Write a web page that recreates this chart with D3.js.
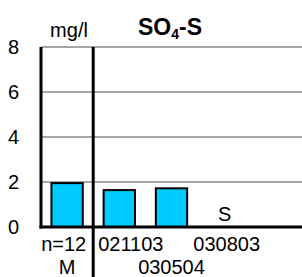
<!DOCTYPE html>
<html>
<head>
<meta charset="utf-8">
<script src="https://cdn.jsdelivr.net/npm/d3@7"></script>
<style>
  body { margin: 0; background: #fff; }
  text { font-family: Arial, "Liberation Sans", sans-serif; }
</style>
</head>
<body>
<div id="viz"></div>
<script>
// chart data
var categories = ["M", "021103", "030504", "030803", "x5"];
var values = [1.95, 1.64, 1.72, null, null];
var labelTop = ["n=12", "021103", "", "030803", ""];
var labelBottom = ["M", "", "030504", "", ""];
var markers = ["", "", "", "S", ""];
var yTicks = [0, 2, 4, 6, 8];

var W = 302, H = 277;
var margin = {top: 47, right: 0, bottom: 50, left: 41},
    width = W - margin.left - margin.right,
    height = H - margin.top - margin.bottom;

var svg = d3.select("#viz").append("svg")
    .attr("width", W)
    .attr("height", H);

var g = svg.append("g")
    .attr("transform", "translate(" + margin.left + "," + margin.top + ")");

var x = d3.scaleBand()
    .domain(categories)
    .range([0, width])
    .paddingInner(0.4)
    .paddingOuter(0.2);

var y = d3.scaleLinear()
    .domain([0, 8])
    .range([height, 0]);

var mid = function(c) { return x(c) + x.bandwidth() / 2; };
// separator between the mean column and the single dates
var sepX = (x(categories[0]) + x.bandwidth() + x(categories[1])) / 2;

// horizontal gridlines
g.append("g")
    .selectAll("line")
    .data(yTicks.filter(function(d) { return d > 0; }))
    .enter().append("line")
    .attr("x1", 0)
    .attr("x2", width)
    .attr("y1", function(d) { return y(d); })
    .attr("y2", function(d) { return y(d); })
    .attr("stroke", "#4d4d4d")
    .attr("stroke-width", 1);

// y tick labels
g.append("g")
    .selectAll("text")
    .data(yTicks)
    .enter().append("text")
    .attr("x", -22)
    .attr("y", function(d) { return y(d); })
    .attr("dy", "0.36em")
    .attr("text-anchor", "end")
    .attr("font-size", "20px")
    .text(function(d) { return d; });

// bars
g.append("g")
    .selectAll("rect")
    .data(values.map(function(v, i) { return {c: categories[i], v: v}; }).filter(function(d) { return d.v != null; }))
    .enter().append("rect")
    .attr("x", function(d) { return x(d.c); })
    .attr("y", function(d) { return y(d.v); })
    .attr("width", x.bandwidth())
    .attr("height", function(d) { return height - y(d.v); })
    .attr("fill", "#00ccff")
    .attr("stroke", "#000")
    .attr("stroke-width", 2);

// marker letters inside plot
g.append("g")
    .selectAll("text")
    .data(categories.map(function(c, i) { return {c: c, t: markers[i]}; }))
    .enter().append("text")
    .attr("x", function(d) { return mid(d.c) + 1; })
    .attr("y", height - 6)
    .attr("text-anchor", "middle")
    .attr("font-size", "20px")
    .text(function(d) { return d.t; });

// category labels, two rows; the ones next to the separator are pushed away from it
var cats = g.append("g");
cats.selectAll("text.top")
    .data(categories.map(function(c, i) { return {c: c, t: labelTop[i], i: i}; }))
    .enter().append("text")
    .attr("class", "top")
    .attr("x", function(d) {
        if (d.i == 0) return sepX - 7;
        if (d.i == 1) return sepX + 5;
        return mid(d.c) + 3;
    })
    .attr("y", height + 24)
    .attr("text-anchor", function(d) { return d.i == 0 ? "end" : (d.i == 1 ? "start" : "middle"); })
    .attr("font-size", "20px")
    .text(function(d) { return d.t; });
cats.selectAll("text.bot")
    .data(categories.map(function(c, i) { return {c: c, t: labelBottom[i]}; }))
    .enter().append("text")
    .attr("class", "bot")
    .attr("x", function(d) { return mid(d.c); })
    .attr("y", height + 47)
    .attr("text-anchor", "middle")
    .attr("font-size", "20px")
    .text(function(d) { return d.t; });

// axes: thick left axis, baseline, separator after first category
g.append("line")
    .attr("x1", 0).attr("x2", 0)
    .attr("y1", 0).attr("y2", height + 1.5)
    .attr("stroke", "#000").attr("stroke-width", 3);
g.append("line")
    .attr("x1", -1.5).attr("x2", width)
    .attr("y1", height).attr("y2", height)
    .attr("stroke", "#000").attr("stroke-width", 3);
g.append("line")
    .attr("x1", sepX).attr("x2", sepX)
    .attr("y1", 0).attr("y2", H - margin.top)
    .attr("stroke", "#000").attr("stroke-width", 3);

// unit and title
svg.append("text")
    .attr("x", 69)
    .attr("y", 37)
    .attr("text-anchor", "middle")
    .attr("font-size", "20px")
    .text("mg/l");

var title = svg.append("text")
    .attr("x", 170)
    .attr("y", 35)
    .attr("text-anchor", "middle")
    .attr("font-size", "23px")
    .attr("font-weight", "bold");
title.append("tspan").text("SO");
title.append("tspan").attr("font-size", "14px").attr("dy", 4).text("4");
title.append("tspan").attr("dy", -4).text("-S");
</script>
</body>
</html>
